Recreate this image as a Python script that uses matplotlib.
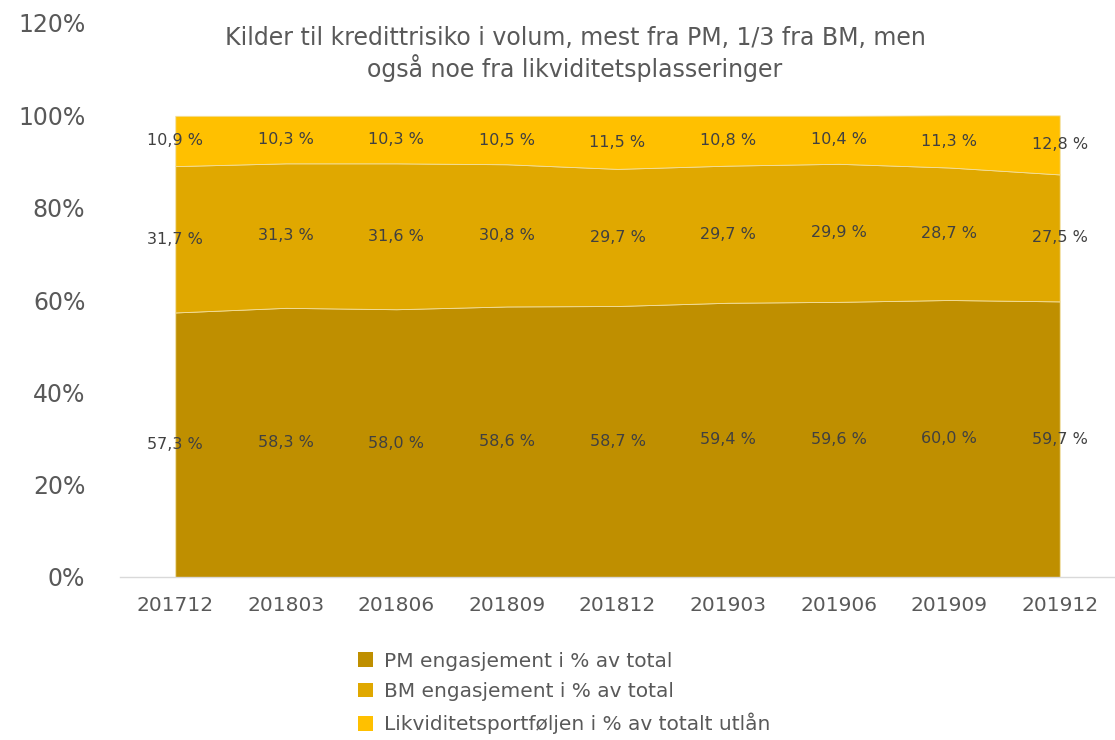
import matplotlib
matplotlib.use("Agg")
import matplotlib.pyplot as plt
import matplotlib.patches as mpatches
import numpy as np

periods = ["201712", "201803", "201806", "201809", "201812",
           "201903", "201906", "201909", "201912"]
pm_share = [57.3, 58.3, 58.0, 58.6, 58.7, 59.4, 59.6, 60.0, 59.7]
bm_share = [31.7, 31.3, 31.6, 30.8, 29.7, 29.7, 29.9, 28.7, 27.5]
liq_share = [10.9, 10.3, 10.3, 10.5, 11.5, 10.8, 10.4, 11.3, 12.8]
series_names = ["PM engasjement i % av total",
                "BM engasjement i % av total",
                "Likviditetsportføljen i % av totalt utlån"]
yticks = [0, 20, 40, 60, 80, 100, 120]

COLORS = ["#BF8F00", "#E0A800", "#FFC000"]
TXT = "#595959"

plt.rcParams["font.family"] = ["DejaVu Sans"]

fig = plt.figure(figsize=(11.15, 7.40), dpi=100)
ax = fig.add_axes([120 / 1115, 1 - 577 / 740, (1115 - 120) / 1115, (577 - 23) / 740])

x = np.arange(len(periods))
series = [np.array(pm_share), np.array(bm_share), np.array(liq_share)]
base = np.zeros(len(periods))
for vals, col in zip(series, COLORS):
    ax.fill_between(x, base, base + vals, facecolor=col, edgecolor="#F2DFA0",
                    linewidth=0.6, zorder=2)
    # value labels in the middle of each band
    for xi, b, v in zip(x, base, vals):
        ax.text(xi, b + v / 2, f"{v:.1f} %".replace(".", ","),
                ha="center", va="center", fontsize=11.5, color="#404040", zorder=4)
    base = base + vals

ax.set_xlim(-0.5, len(periods) - 0.5)
ax.set_ylim(0, 120)
ax.set_yticks(yticks)
ax.set_yticklabels([f"{t}%" for t in yticks], fontsize=17, color=TXT)
ax.set_xticks(x)
ax.set_xticklabels(periods, fontsize=14.5, color=TXT)
ax.tick_params(axis="both", length=0)
ax.tick_params(axis="y", pad=25)
ax.tick_params(axis="x", pad=14)
for s in ["top", "right", "left"]:
    ax.spines[s].set_visible(False)
ax.spines["bottom"].set_color("#D9D9D9")
ax.spines["bottom"].set_linewidth(1.0)

fig.text(575 / 1115, 1 - 54 / 740,
         "Kilder til kredittrisiko i volum, mest fra PM, 1/3 fra BM, men\nogså noe fra likviditetsplasseringer",
         ha="center", va="center", fontsize=17, color=TXT, linespacing=1.2)

handles = [mpatches.Patch(facecolor=c, edgecolor="none") for c in COLORS]
leg = fig.legend(handles, series_names, loc="center left",
                 bbox_to_anchor=(358 / 1115, 1 - 693 / 740), frameon=False,
                 fontsize=14.5, labelcolor=TXT, handlelength=0.72, handleheight=0.72,
                 handletextpad=0.55, labelspacing=0.58, borderaxespad=0,
                 borderpad=0)

fig.savefig("out.png", dpi=100)
